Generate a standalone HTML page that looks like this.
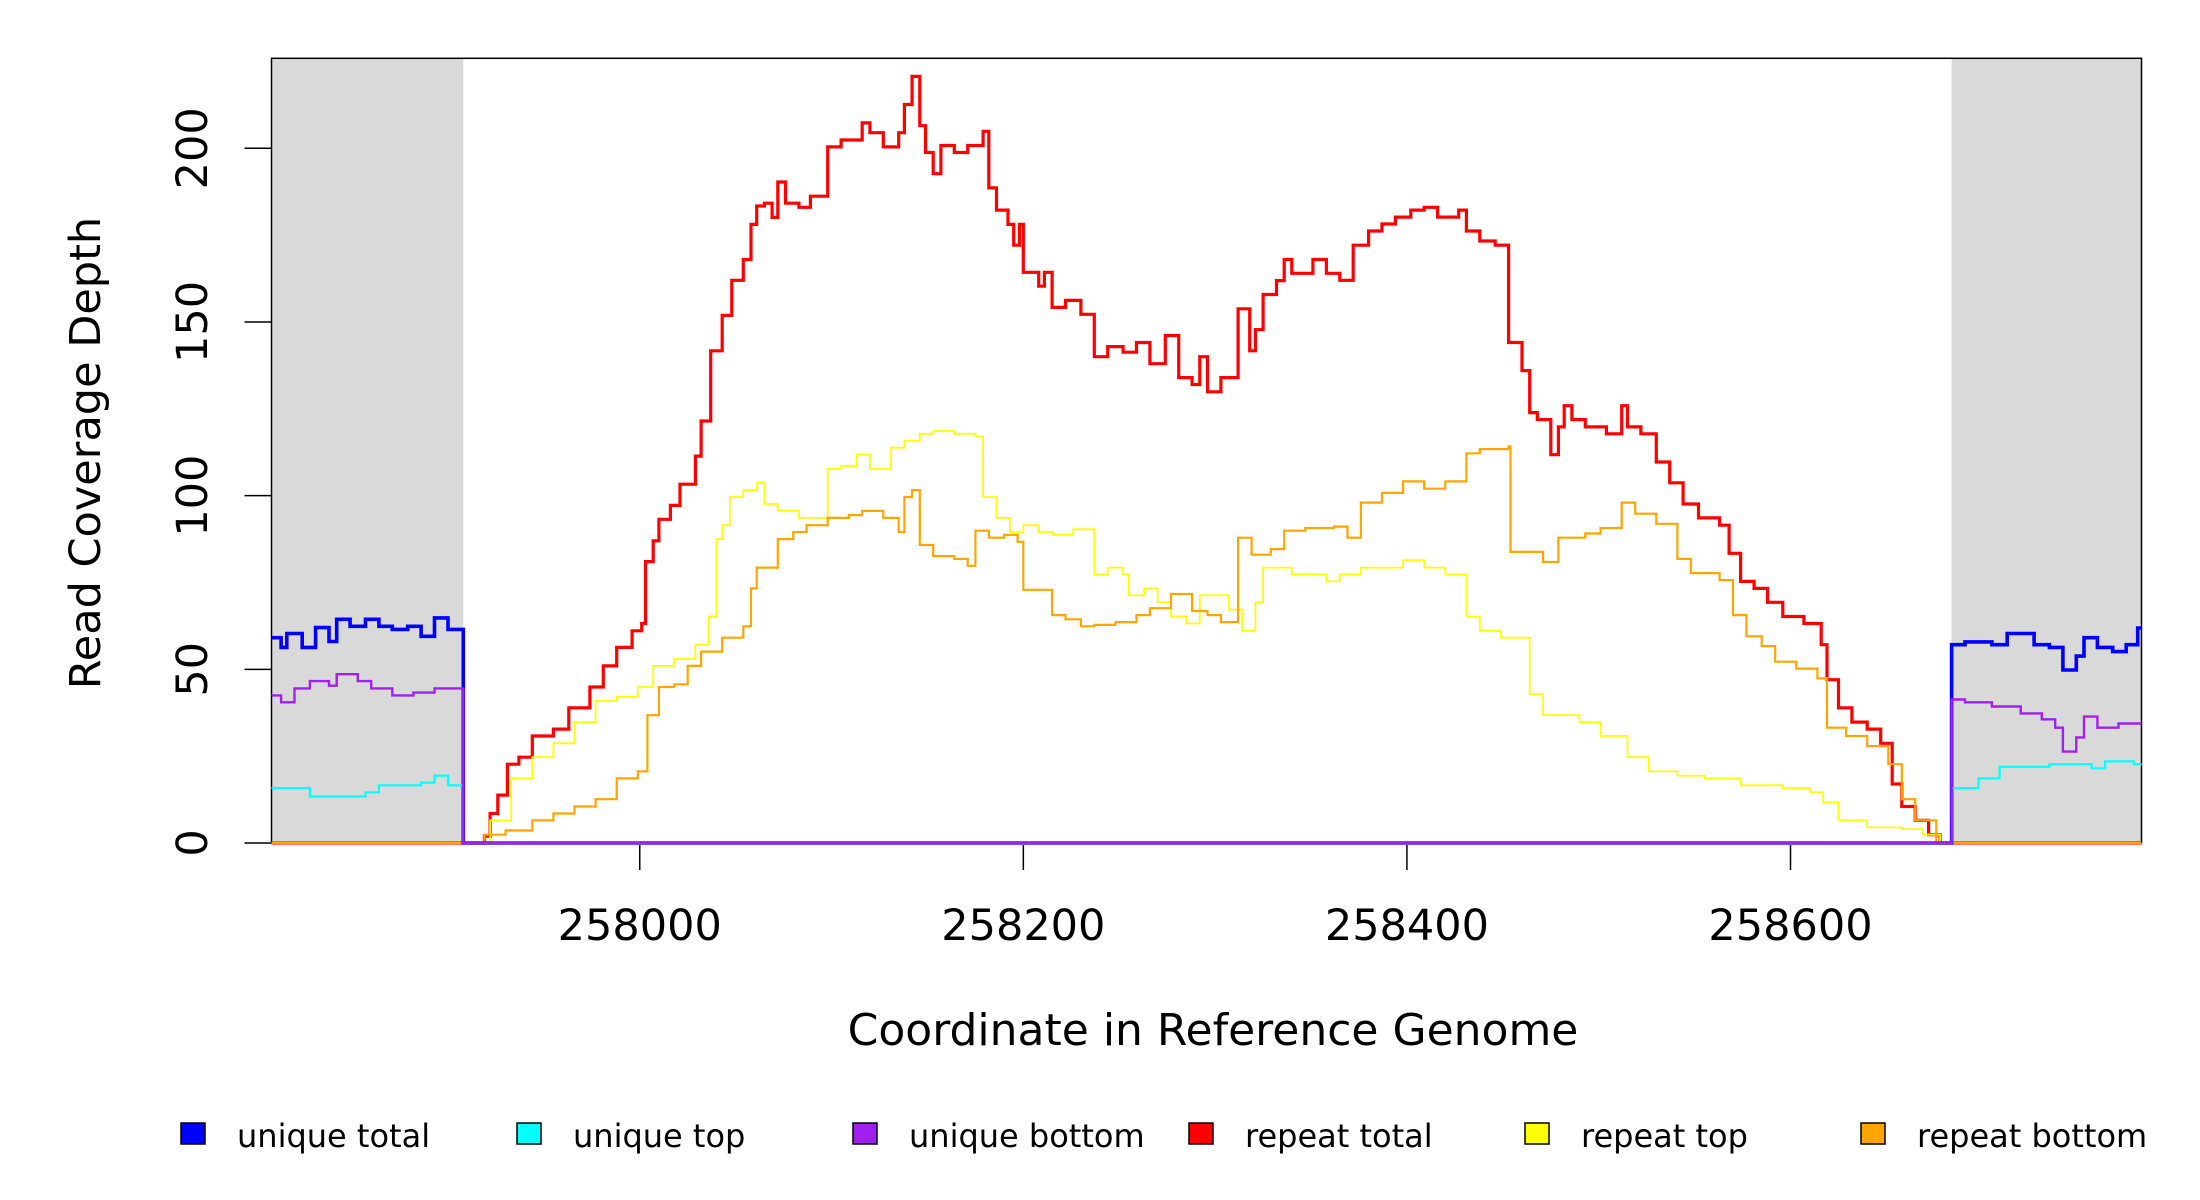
<!DOCTYPE html>
<html><head><meta charset="utf-8"><style>
html,body{margin:0;padding:0;background:#fff;}
svg{display:block;font-family:"DejaVu Sans","Liberation Sans",sans-serif;}
</style></head><body>
<svg id="chart" width="2200" height="1200" viewBox="0 0 2200 1200" xmlns="http://www.w3.org/2000/svg">
<g id="plot"></g>
<g id="axes"></g>
<text x="0" y="0" transform="translate(100,453) rotate(-90)" text-anchor="middle" font-size="43">Read Coverage Depth</text>
<text x="1213" y="1045" text-anchor="middle" font-size="44">Coordinate in Reference Genome</text>
<g id="legend"></g>
</svg>
<script>
const xTicks=[258000,258200,258400,258600];
const yTicks=[0,50,100,150,200];
const legendLabels=["unique total","unique top","unique bottom","repeat total","repeat top","repeat bottom"];
const legendColors=["#0000ff","#00ffff","#a020f0","#ff0000","#ffff00","#ffa500"];
const grayRegions=[[257808,257908],[258684,258783]];

const rtC=[257808,257908,257919,257922,257926,257931,257937,257944,257955,257963,257974,257981,257988,257996,258001,258003,258007,258010,258016,258021,258029,258032,258037,258043,258048,258054,258058,258061,258065,258069,258072,258076,258083,258089,258098,258105,258113,258116,258120,258127,258135,258138,258142,258146,258149,258153,258157,258164,258171,258179,258182,258186,258192,258195,258198,258200,258208,258211,258215,258222,258230,258237,258244,258252,258259,258266,258274,258281,258288,258292,258296,258303,258312,258318,258321,258325,258332,258336,258340,258351,258358,258365,258372,258380,258387,258394,258402,258409,258416,258424,258427,258431,258438,258446,258452,258453,258460,258464,258468,258475,258479,258482,258486,258493,258504,258512,258515,258522,258530,258537,258544,258552,258563,258568,258574,258581,258588,258596,258607,258616,258619,258625,258632,258640,258647,258653,258658,258665,258672,258678];
const rtV=[0,0,2,8.5,13.8,22.7,24.7,30.8,32.8,38.9,44.9,51,56.3,61.1,63.2,81,87,93.2,97.2,103.3,111.4,121.5,141.7,151.9,162,168,178.1,183.4,184.2,180.1,190.3,184.2,183,186.2,200.4,202.4,202.4,207.3,204.5,200.4,204.5,212.6,220.7,206.5,198.8,192.7,200.8,198.8,200.8,204.9,188.6,182.2,178.1,172.1,178.1,164.3,160.3,164.3,154.2,156.2,152.2,140,142.9,141.3,144.1,138,146.1,134,132,140,129.9,134,153.8,141.7,147.8,157.9,161.9,168,164,168,164,162,172.1,176.2,178.2,180.2,182.2,183,180.2,180.2,182.2,176.2,173.3,172.1,172.1,144.1,136,123.9,121.9,111.8,119.8,125.9,121.9,119.8,117.8,125.9,119.8,117.8,109.7,103.7,97.6,93.6,91.5,83.4,75.3,73.3,69.3,65.2,63.2,57.1,47,38.9,34.8,32.8,28.7,17,10.5,6.5,2.4,0];

const ytC=[257808,257908,257922,257933,257944,257955,257966,257977,257988,257999,258007,258018,258029,258036,258040,258043,258047,258054,258061,258065,258072,258083,258098,258105,258113,258120,258131,258138,258146,258153,258164,258175,258179,258186,258193,258200,258208,258215,258226,258237,258244,258252,258255,258263,258270,258277,258285,258292,258299,258307,258314,258321,258325,258332,258340,258351,258358,258365,258376,258387,258398,258409,258420,258431,258438,258449,258460,258464,258471,258479,258490,258501,258515,258526,258541,258555,258574,258596,258610,258617,258625,258640,258658,258669,258678];
const ytV=[0,0,6.5,18.6,24.7,28.7,34.8,40.9,42.1,44.9,51,53,57.1,65.2,87.5,91.5,99.6,101.6,103.7,97.6,95.6,93.6,107.7,108.5,111.8,107.7,113.8,115.8,117.8,118.6,117.8,117,99.6,93.6,89.5,91.5,89.5,88.7,90.3,77.3,79.3,77.3,71.3,73.3,69.3,65.2,63.2,71.3,71.3,67.2,61.1,69.3,79.3,79.3,77.3,77.3,75.3,77.3,79.3,79.3,81.4,79.3,77.3,65.2,61.1,59.1,59.1,42.9,36.8,36.8,34.8,30.8,24.7,20.6,19.4,18.6,16.6,15.8,14.6,11.7,6.5,4.5,4,2.4,0];

const rbC=[257808,257908,257919,257930,257944,257955,257966,257977,257988,257999,258004,258010,258018,258025,258032,258043,258054,258058,258061,258069,258072,258080,258087,258098,258109,258116,258127,258135,258138,258142,258146,258153,258164,258171,258175,258182,258190,258197,258200,258211,258215,258222,258230,258237,258248,258259,258266,258277,258281,258288,258296,258303,258312,258319,258329,258336,258347,258362,258369,258376,258387,258398,258409,258420,258431,258438,258453,258454,258464,258471,258479,258486,258493,258501,258512,258519,258530,258541,258548,258563,258570,258577,258585,258592,258603,258614,258619,258629,258640,258651,258658,258665,258676];
const rbV=[0,0,2.4,3.6,6.5,8.5,10.5,12.6,18.6,20.6,36.8,44.9,45.7,51,55.1,59.1,62.4,73.3,79.3,79.3,87.5,89.5,91.5,93.6,94.4,95.6,93.6,89.5,99.6,101.6,85.8,82.6,81.8,79.8,89.9,87.9,88.7,86.7,72.9,72.9,65.6,64.4,62.4,62.8,63.6,65.6,67.6,71.7,71.7,66.8,65.6,63.6,87.9,83,84.6,89.9,90.7,91.1,87.9,98,100.8,104.1,102,104.1,112.2,113.4,114.2,83.8,83.8,80.9,87.9,87.9,89.1,90.7,98,94.8,91.9,81.8,77.7,75.7,65.6,59.5,56.7,52.2,50.2,47.4,33.2,30.8,27.9,22.7,12.6,6.5,0];

const utC=[257808,257813,257816,257824,257831,257838,257842,257849,257857,257864,257871,257879,257886,257893,257900,257908,258684,258691,258705,258713,258720,258727,258735,258742,258749,258753,258760,258768,258775,258781];
const utV=[59.1,56.3,60.3,56.3,62,58,64.4,62.4,64.4,62.4,61.5,62.4,59.5,64.8,61.5,0,57.1,57.9,57.1,60.3,60.3,57.1,56.3,49.8,53.8,59.1,56.3,55.1,57.1,61.9];

const ubC=[257808,257813,257820,257828,257838,257842,257853,257860,257871,257882,257893,257908,258684,258691,258705,258720,258731,258738,258742,258749,258753,258760,258771];
const ubV=[42.5,40.5,44.5,46.6,45.3,48.6,46.6,44.5,42.5,43.3,44.5,0,41.3,40.5,39.3,37.3,35.6,33.2,26.3,30.4,36.4,33.2,34.4];

const uoC=[257808,257828,257857,257864,257886,257893,257900,257908,258684,258698,258709,258735,258757,258764,258779];
const uoV=[15.8,13.4,14.6,16.6,17.4,19.4,16.6,0,15.8,18.6,21.9,22.7,21.5,23.5,22.7];

const X0=257808,X1=258783,PL=271.5,PR=2141.5,PT=58.3,PB=843;
function X(c){return PL+(c-X0)*(PR-PL)/(X1-X0);}
function Y(v){return PB-v*3.4735;}
const NS="http://www.w3.org/2000/svg";
function mk(tag,parent){const e=document.createElementNS(NS,tag);parent.appendChild(e);return e;}
const plot=document.getElementById('plot');
const axes=document.getElementById('axes');

grayRegions.forEach(function(r,i){
  const e=mk('rect',plot);
  
  
  e.setAttribute('x',X(r[0]));e.setAttribute('y',PT);
  e.setAttribute('width',X(r[1])-X(r[0]));e.setAttribute('height',PB-PT);
  e.setAttribute('fill','#d9d9d9');
});

const box=mk('rect',plot);


box.setAttribute('x',PL);box.setAttribute('y',PT);box.setAttribute('width',PR-PL);box.setAttribute('height',PB-PT);
box.setAttribute('fill','none');box.setAttribute('stroke','#000');box.setAttribute('stroke-width','1.5');

function stepPath(cs,vs){
  let d='M'+X(cs[0]).toFixed(1)+','+Y(vs[0]).toFixed(1);
  for(let i=1;i<cs.length;i++){d+='H'+X(cs[i]).toFixed(1)+'V'+Y(vs[i]).toFixed(1);}
  d+='H'+X(X1).toFixed(1);
  return d;
}
const series=[
 ['repeat-total-line',rtC,rtV,'#ff0000',3.2],
 ['repeat-top-line',ytC,ytV,'#ffff00',1.8],
 ['repeat-bottom-line',rbC,rbV,'#ffa500',2.2],
 ['unique-total-line',utC,utV,'#0000ff',3.6],
 ['unique-top-line',uoC,uoV,'#00ffff',2.2],
 ['unique-bottom-line',ubC,ubV,'#a020f0',2.4]
];
series.forEach(function(s){
  const p=mk('path',plot);
  
  
  p.setAttribute('d',stepPath(s[1],s[2]));
  p.setAttribute('fill','none');p.setAttribute('stroke',s[3]);p.setAttribute('stroke-width',s[4]);
});

xTicks.forEach(function(t){
  const l=mk('line',axes);
  
  
  l.setAttribute('x1',X(t));l.setAttribute('x2',X(t));l.setAttribute('y1',PB+2);l.setAttribute('y2',PB+27);
  l.setAttribute('stroke','#000');l.setAttribute('stroke-width','1.5');
  const tx=mk('text',axes);
  
  
  tx.setAttribute('x',X(t));tx.setAttribute('y',940);tx.setAttribute('text-anchor','middle');tx.setAttribute('font-size','43');
  tx.textContent=t;
});
yTicks.forEach(function(t){
  const l=mk('line',axes);
  
  
  l.setAttribute('x1',PL-27);l.setAttribute('x2',PL);l.setAttribute('y1',Y(t));l.setAttribute('y2',Y(t));
  l.setAttribute('stroke','#000');l.setAttribute('stroke-width','1.5');
  const tx=mk('text',axes);
  
  
  tx.setAttribute('transform','translate(207,'+Y(t)+') rotate(-90)');
  tx.setAttribute('text-anchor','middle');tx.setAttribute('font-size','43');
  tx.textContent=t;
});

const leg=document.getElementById('legend');
legendLabels.forEach(function(lab,i){
  const x=181+i*336;
  const r=mk('rect',leg);
  
  
  r.setAttribute('x',x);r.setAttribute('y',1123);r.setAttribute('width',24);r.setAttribute('height',21);
  r.setAttribute('fill',legendColors[i]);r.setAttribute('stroke','#000');r.setAttribute('stroke-width','1.5');
  const t=mk('text',leg);
  
  
  t.setAttribute('x',x+56);t.setAttribute('y',1147);t.setAttribute('font-size','32');
  t.textContent=lab;
});
</script>
</body></html>
